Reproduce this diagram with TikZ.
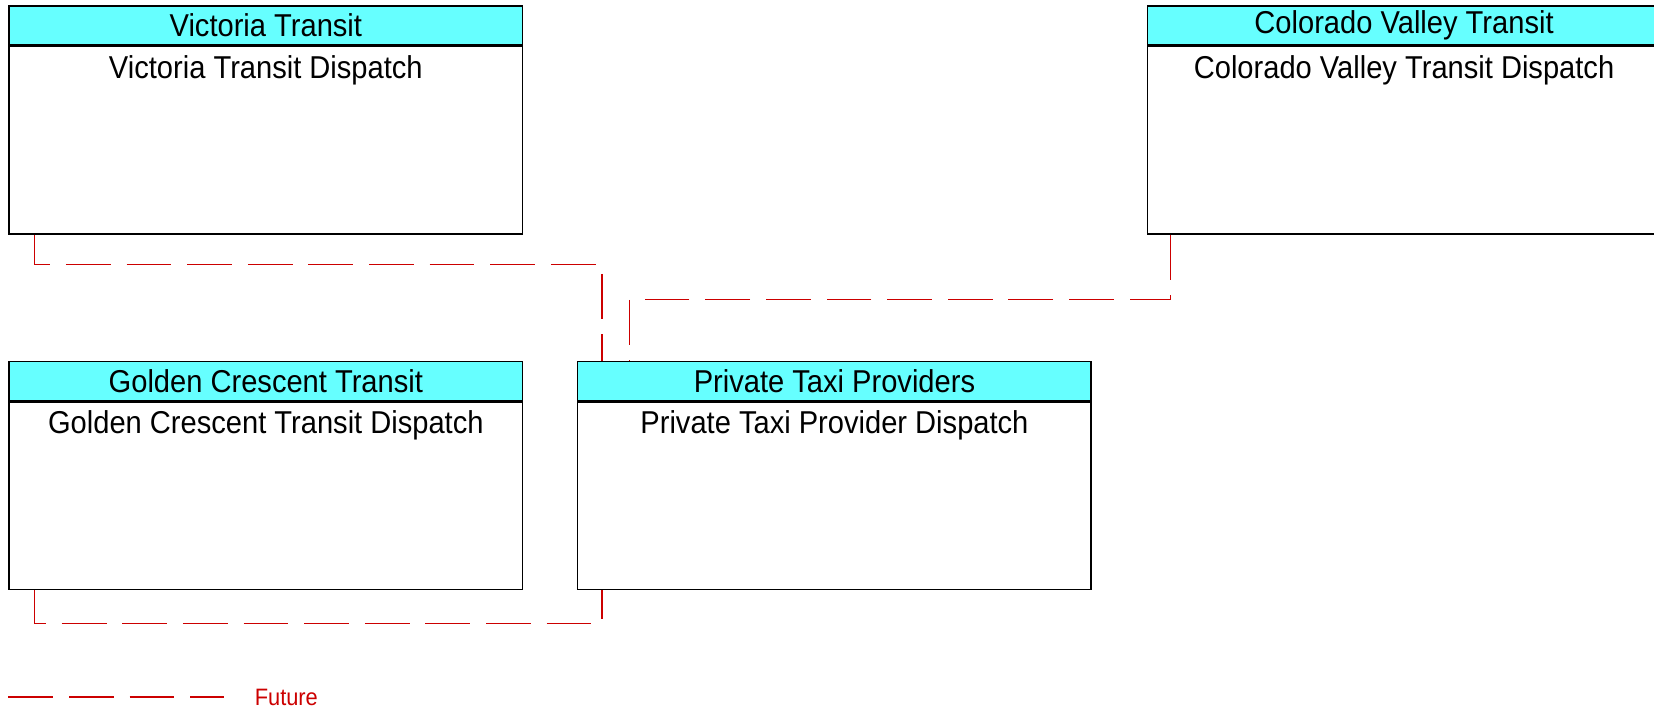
\documentclass[tikz,border=0pt]{standalone}
\usepackage{fontspec}
\setmainfont{Liberation Sans}[FakeStretch=0.92]
\usepackage{tikz}

\definecolor{cyanclair}{HTML}{66FFFF}
\definecolor{rougefutur}{HTML}{CC0000}
\newcommand\corps[1]{\parbox[t][3.4cm][t]{10cm}{\centering #1}}

\begin{document}
\begin{tikzpicture}[
    x=0.02cm, y=-0.02cm,
    entete/.style={draw, fill=cyanclair, line width=0.85pt, minimum width=10.27cm,
      minimum height=0.78cm, inner sep=0pt, anchor=north west, font=\fontsize{18}{20}\selectfont},
    boite/.style={draw, fill=white, line width=0.85pt, minimum width=10.27cm,
      minimum height=3.75cm, inner xsep=0pt, inner ysep=0.13cm, anchor=north, font=\fontsize{18}{20}\selectfont},
    futur/.style={draw=rougefutur, line width=0.6pt, dash pattern=on 25.5pt off 9pt},
  ]
  \useasboundingbox (0,0) rectangle (1654,714);
  % les centres de dispatch
  \node[entete] (vth) at (8.4,5.3) {Victoria Transit};
  \node[boite] (vtb) at (vth.south) {\corps{Victoria Transit Dispatch}};
  \node[entete] (cvh) at (1146.6,5.3) {Colorado Valley Transit};
  \node[boite] (cvb) at (cvh.south) {\corps{Colorado Valley Transit Dispatch}};
  \node[entete] (gch) at (8.4,360.7) {Golden Crescent Transit};
  \node[boite] (gcb) at (gch.south) {\corps{Golden Crescent Transit Dispatch}};
  \node[entete] (pth) at (577,360.7) {Private Taxi Providers};
  \node[boite] (ptb) at (pth.south) {\corps{Private Taxi Provider Dispatch}};
  % liaisons futures
  \draw[futur] ([xshift=0.53cm]vtb.south west) -- ++(0,29.6) -| ([xshift=0.5cm]pth.north west);
  \draw[futur] ([xshift=0.48cm]cvb.south west) -- ++(0,64.4) -| ([xshift=1.05cm]pth.north west);
  \draw[futur] ([xshift=0.53cm]gcb.south west) -- ++(0,33.8) -| ([xshift=0.5cm]ptb.south west);
  % legende
  \coordinate (lg1) at (8.4,697);
  \coordinate (lg2) at (223.6,697);
  \draw[futur] (lg1) -- (lg2);
  \node[anchor=west, text=rougefutur, font=\fontsize{13.5}{15}\selectfont] (lgt)
    at ([xshift=0.5cm]lg2) {Future};
\end{tikzpicture}
\end{document}
